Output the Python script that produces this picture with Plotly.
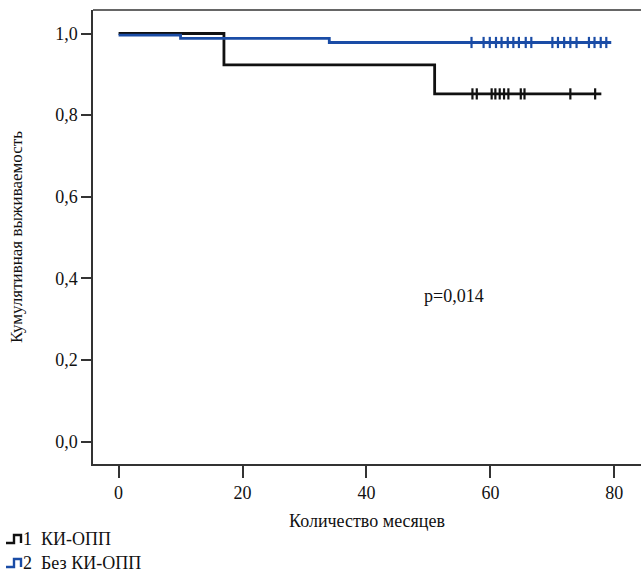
import plotly.graph_objects as go

# Kaplan-Meier step data
g1_name = "1  КИ-ОПП"
g1_time = [0, 17, 51, 77.9]
g1_surv = [1.0, 0.923, 0.852, 0.852]
g1_cens_time = [57.1, 57.8, 60.2, 60.8, 61.5, 62.2, 62.9, 64.9, 65.5, 72.9, 76.9]
g1_cens_surv = [0.852] * len(g1_cens_time)

g2_name = "2  Без КИ-ОПП"
g2_time = [0, 10, 34, 79.5]
g2_surv = [0.996, 0.988, 0.978, 0.978]
g2_cens_time = [56.95, 58.9, 59.9, 60.9, 61.8, 62.8, 63.7, 64.6, 65.7, 66.6,
                70.0, 70.9, 71.9, 72.9, 73.9, 75.9, 76.8, 77.8, 78.7]
g2_cens_surv = [0.978] * len(g2_cens_time)

x_ticks = [0, 20, 40, 60, 80]
y_ticks = [0.0, 0.2, 0.4, 0.6, 0.8, 1.0]
y_ticktext = ["0,0", "0,2", "0,4", "0,6", "0,8", "1,0"]

BLACK = "#111111"
BLUE = "#1a4ca6"
FONT = "Liberation Serif"
FS = 18

fig = go.Figure()
for t, s, ct, cs, col, nm in [
    (g1_time, g1_surv, g1_cens_time, g1_cens_surv, BLACK, g1_name),
    (g2_time, g2_surv, g2_cens_time, g2_cens_surv, BLUE, g2_name),
]:
    fig.add_trace(go.Scatter(x=t, y=s, mode="lines", line=dict(color=col, width=2.8, shape="hv"),
                             name=nm, showlegend=False))
    fig.add_trace(go.Scatter(x=ct, y=cs, mode="markers",
                             marker=dict(symbol="line-ns", size=8, line=dict(color=col, width=2.2)),
                             showlegend=False))

# plot area geometry (pixels) for legend placement
L, R, T, B = 93, 641, 10, 464
def px(x):
    return (x - L) / (R - L)
def py(y):
    return (B - y) / (B - T)

shapes = [dict(type="line", xref="paper", yref="paper", x0=0, x1=1, y0=1, y1=1,
               line=dict(color="#333333", width=1.5))]
annotations = [dict(x=54.1, y=0.357, xref="x", yref="y", text="p=0,014", showarrow=False,
                    font=dict(family=FONT, size=FS, color="#111111"))]

legend_items = [(g1_name, BLACK, 539), (g2_name, BLUE, 563)]
for nm, col, yc in legend_items:
    path_pts = [(6, yc + 4), (14, yc + 4), (14, yc - 4), (21, yc - 4), (21, yc + 4)]
    path = "M " + " L ".join(f"{px(a):.5f},{py(b):.5f}" for a, b in path_pts)
    shapes.append(dict(type="path", xref="paper", yref="paper", path=path,
                       line=dict(color=col, width=2.4)))
    annotations.append(dict(x=px(21), y=py(yc), xref="paper", yref="paper", text=nm,
                            showarrow=False, xanchor="left", yanchor="middle",
                            font=dict(family=FONT, size=FS, color="#111111")))

fig.update_layout(
    width=641, height=578,
    margin=dict(l=L, r=0, t=T, b=578 - B),
    paper_bgcolor="white", plot_bgcolor="white",
    font=dict(family=FONT, size=FS, color="#111111"),
    shapes=shapes, annotations=annotations,
    xaxis=dict(range=[-4.13, 84.3], tickvals=x_ticks, showline=True, linecolor="#333333",
               linewidth=1.5, ticks="outside", ticklen=12, tickcolor="#333333", tickwidth=1.5,
               showgrid=False, zeroline=False,
               title=dict(text="Количество месяцев", font=dict(family=FONT, size=FS), standoff=12)),
    yaxis=dict(range=[-0.055, 1.0576], tickvals=y_ticks, ticktext=y_ticktext, showline=True,
               linecolor="#333333", linewidth=1.5, ticks="outside", ticklen=10,
               tickcolor="#333333", tickwidth=1.5, showgrid=False, zeroline=False,
               title=dict(text="Кумулятивная выживаемость", font=dict(family=FONT, size=17),
                          standoff=28)),
)

fig.write_html("out.html")
